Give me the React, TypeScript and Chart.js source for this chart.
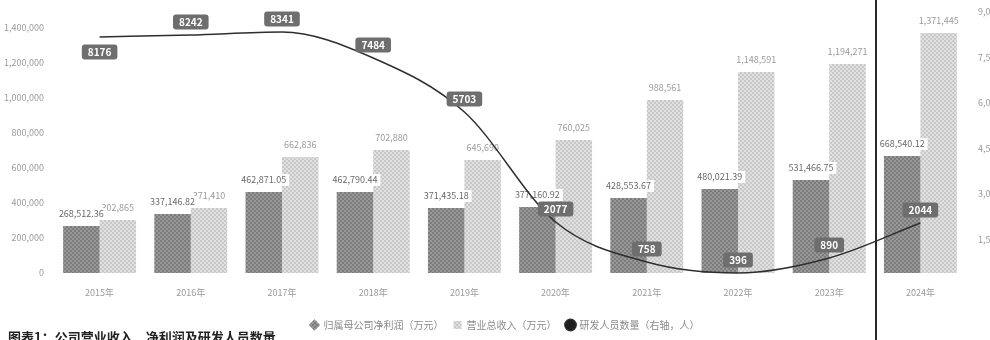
import React, { useEffect, useRef } from "react";
import { Chart, registerables } from "chart.js";

Chart.register(...registerables);

const categories = ["2015年", "2016年", "2017年", "2018年", "2019年", "2020年", "2021年", "2022年", "2023年", "2024年"];
const seriesDarkName = "归属母公司净利润（万元）";
const seriesLightName = "营业总收入（万元）";
const seriesLineName = "研发人员数量（右轴，人）";
const seriesDark = [268512.36, 337146.82, 462871.05, 462790.44, 371435.18, 377160.92, 428553.67, 480021.39, 531466.75, 668540.12];
const seriesLight = [302864.5, 371410.2, 662835.7, 702880.1, 645690.4, 760025.3, 988560.8, 1148590.6, 1194270.9, 1371445.2];
const seriesLine = [8176, 8242, 8341, 7484, 5703, 2077, 758, 396, 890, 2044];
const leftTicks = [0, 200000, 400000, 600000, 800000, 1000000, 1200000, 1400000];
const rightTicks = [1500, 3000, 4500, 6000, 7500, 9000];
const leftMax = 1491429;
const rightMin = 396;
const rightMax = 9000;
const captionText = "图表1：公司营业收入、净利润及研发人员数量";

const FONT = "'Noto Sans CJK SC', 'Noto Sans', sans-serif";

function makePattern(bg: string, fg: string) {
  const c = document.createElement("canvas");
  c.width = 4;
  c.height = 4;
  const x = c.getContext("2d")!;
  x.fillStyle = bg;
  x.fillRect(0, 0, 4, 4);
  x.fillStyle = fg;
  x.fillRect(0, 0, 2, 2);
  x.fillRect(2, 2, 2, 2);
  return x.createPattern(c, "repeat")!;
}

const fmt2 = (v: number) => v.toLocaleString("en-US", { minimumFractionDigits: 2, maximumFractionDigits: 2 });
const fmt0 = (v: number) => v.toLocaleString("en-US", { maximumFractionDigits: 0 });

function roundRect(ctx: CanvasRenderingContext2D, x: number, y: number, w: number, h: number, r: number) {
  ctx.beginPath();
  ctx.moveTo(x + r, y);
  ctx.lineTo(x + w - r, y);
  ctx.quadraticCurveTo(x + w, y, x + w, y + r);
  ctx.lineTo(x + w, y + h - r);
  ctx.quadraticCurveTo(x + w, y + h, x + w - r, y + h);
  ctx.lineTo(x + r, y + h);
  ctx.quadraticCurveTo(x, y + h, x, y + h - r);
  ctx.lineTo(x, y + r);
  ctx.quadraticCurveTo(x, y, x + r, y);
  ctx.closePath();
}

const labelPlugin = {
  id: "valueLabels",
  afterDatasetDraw(chart: any, args: any) {
    const meta = args.meta;
    if (meta.type !== "bar") return;
    const ctx = chart.ctx as CanvasRenderingContext2D;
    const ds = chart.data.datasets[args.index];
    const isDark = args.index === 0;
    ctx.save();
    ctx.font = `9px ${FONT}`;
    ctx.textAlign = "center";
    ctx.textBaseline = "middle";
    meta.data.forEach((el: any, i: number) => {
      const v = ds.data[i] as number;
      const txt = isDark ? fmt2(v) : fmt0(v);
      const w = ctx.measureText(txt).width + 6;
      const y = el.y - 12;
      ctx.fillStyle = "rgba(255,255,255,0.95)";
      ctx.fillRect(el.x - w / 2, y - 6, w, 12);
      ctx.fillStyle = isDark ? "#6a6a6a" : "#9a9a9a";
      ctx.fillText(txt, el.x, y);
    });
    ctx.restore();
  },
  afterDatasetsDraw(chart: any) {
    const ctx = chart.ctx as CanvasRenderingContext2D;
    const meta = chart.getDatasetMeta(2);
    const ds = chart.data.datasets[2];
    ctx.save();
    ctx.font = `bold 10px ${FONT}`;
    ctx.textAlign = "center";
    ctx.textBaseline = "middle";
    meta.data.forEach((el: any, i: number) => {
      const txt = String(ds.data[i]);
      const w = ctx.measureText(txt).width + 12;
      const h = 15;
      const cy = i === 0 ? el.y + 15 : el.y - 13;
      ctx.fillStyle = "#6e6e6e";
      roundRect(ctx, el.x - w / 2, cy - h / 2, w, h, 3);
      ctx.fill();
      ctx.fillStyle = "#ffffff";
      ctx.fillText(txt, el.x, cy + 0.5);
    });
    ctx.restore();
  },
};

export default function App() {
  const ref = useRef<HTMLCanvasElement | null>(null);

  useEffect(() => {
    document.body.style.margin = "0";
    const canvas = ref.current!;
    const darkPattern = makePattern("#989898", "#7c7c7c");
    const lightPattern = makePattern("#e0e0e0", "#c8c8c8");
    Chart.defaults.font.family = FONT;
    const chart = new Chart(canvas, {
      type: "bar",
      data: {
        labels: categories,
        datasets: [
          {
            label: seriesDarkName,
            data: seriesDark,
            backgroundColor: darkPattern,
            yAxisID: "y",
            order: 1,
            pointStyle: "rectRot",
          } as any,
          {
            label: seriesLightName,
            data: seriesLight,
            backgroundColor: lightPattern,
            yAxisID: "y",
            order: 2,
            pointStyle: "rect",
          } as any,
          {
            type: "line",
            label: seriesLineName,
            data: seriesLine,
            borderColor: "#2e2e2e",
            backgroundColor: "#1e1e1e",
            borderWidth: 1.5,
            pointRadius: 0,
            cubicInterpolationMode: "monotone",
            yAxisID: "y1",
            order: 0,
            clip: false,
            pointStyle: "circle",
          } as any,
        ],
      },
      options: {
        responsive: false,
        maintainAspectRatio: false,
        animation: false,
        layout: { padding: { top: 12, bottom: 0, left: 0, right: 0 } },
        datasets: { bar: { categoryPercentage: 0.8, barPercentage: 1.0 } },
        plugins: {
          tooltip: { enabled: false },
          legend: {
            position: "bottom",
            labels: {
              usePointStyle: true,
              boxWidth: 8,
              boxHeight: 8,
              padding: 10,
              color: "#8a8a8a",
              font: { size: 10, family: FONT },
              sort: (a: any, b: any) => a.datasetIndex - b.datasetIndex,
            },
          },
        },
        scales: {
          x: {
            grid: { display: false },
            border: { display: false },
            ticks: { color: "#9a9a9a", font: { size: 9 }, padding: 6 },
            afterFit: (s: any) => {
              s.height = 37;
            },
          },
          y: {
            position: "left",
            min: 0,
            max: leftMax,
            grid: { display: false },
            border: { display: false },
            ticks: {
              color: "#9a9a9a",
              font: { size: 9 },
              padding: 2,
              callback: (v: any) => Number(v).toLocaleString("en-US"),
            },
            afterBuildTicks: (s: any) => {
              s.ticks = leftTicks.map((v) => ({ value: v }));
            },
            afterFit: (s: any) => {
              s.width = 54;
            },
          },
          y1: {
            position: "right",
            min: rightMin,
            max: rightMax,
            grid: { display: false },
            border: { display: false },
            ticks: {
              color: "#9a9a9a",
              font: { size: 9 },
              padding: 4,
              callback: (v: any) => Number(v).toLocaleString("en-US"),
            },
            afterBuildTicks: (s: any) => {
              s.ticks = rightTicks.map((v) => ({ value: v }));
            },
            afterFit: (s: any) => {
              s.width = 44;
            },
          },
        },
      },
      plugins: [labelPlugin],
    });
    return () => chart.destroy();
  }, []);

  return (
    <div style={{ position: "relative", width: 990, height: 340, overflow: "hidden", background: "#fff" }}>
      <canvas ref={ref} width={1010} height={340} style={{ display: "block" }} />
      <div
        style={{
          position: "absolute",
          left: 875,
          top: 0,
          width: 2,
          height: 340,
          background: "#2a2a2a",
        }}
      />
      <div
        style={{
          position: "absolute",
          left: 8,
          top: 329,
          fontFamily: FONT,
          fontSize: 13,
          fontWeight: 700,
          color: "#222",
          whiteSpace: "nowrap",
          lineHeight: "16px",
        }}
      >
        {captionText}
      </div>
    </div>
  );
}
